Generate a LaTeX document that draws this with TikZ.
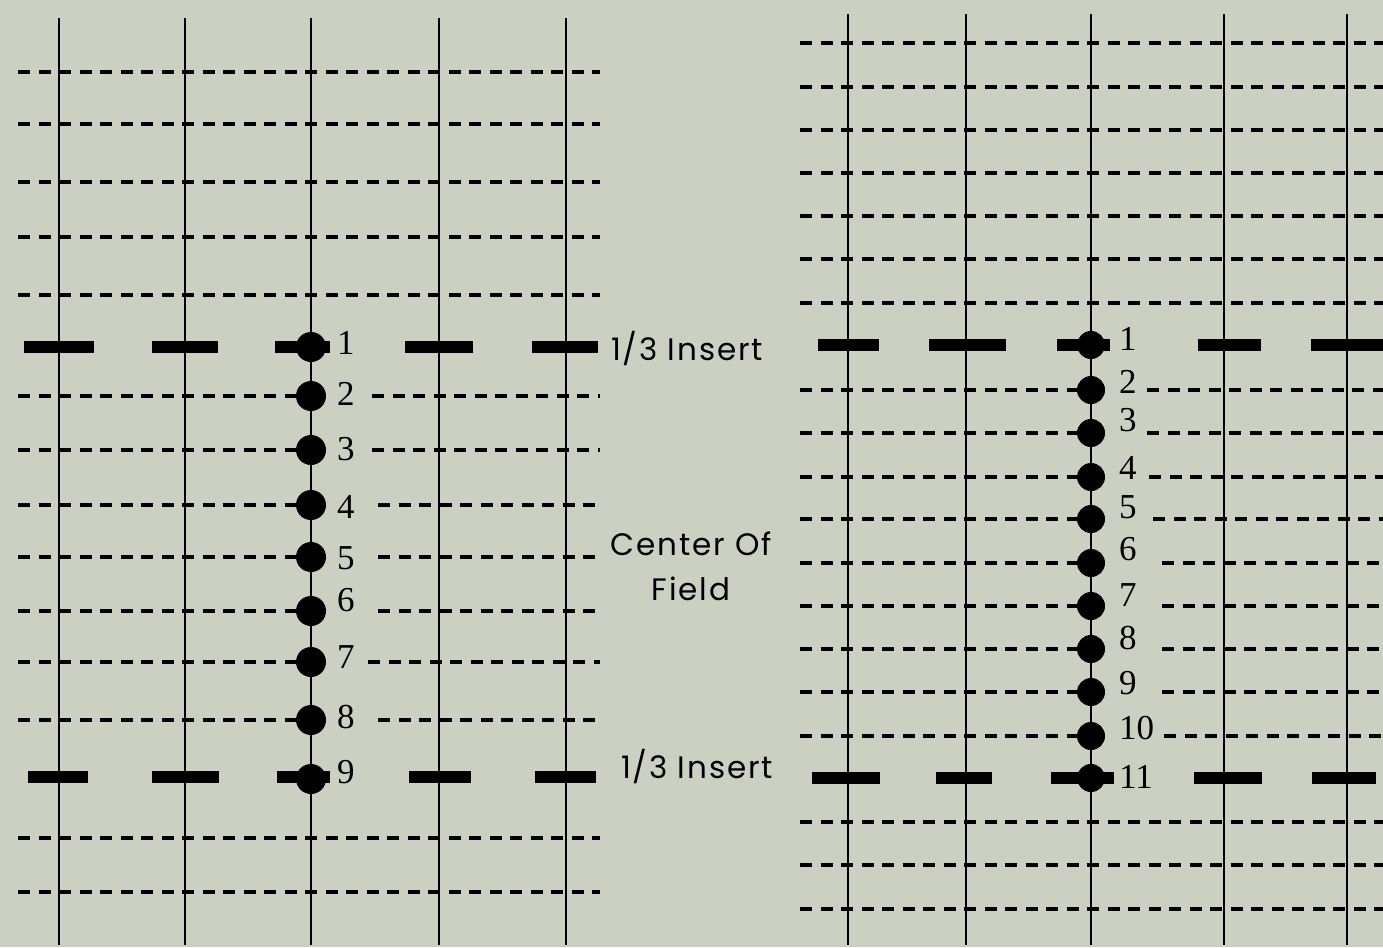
\documentclass[tikz,border=0pt]{standalone}
\usepackage{fontspec}
\newfontfamily\geo{Poppins}[LetterSpace=6]
\newfontfamily\numfont{Liberation Serif}
\definecolor{paper}{RGB}{204,208,194}
\begin{document}
\begin{tikzpicture}[x=1pt, y=-1pt, line cap=butt,
    vline/.style={line width=2.6pt},
    row/.style={line width=3.4pt, dash pattern=on 12pt off 8.5pt},
    bar/.style={line width=12pt},
    dot/.style={circle, fill=black, inner sep=0pt, minimum size=30pt},
    sdot/.style={dot, minimum size=28pt},
    num/.style={anchor=west, inner sep=0pt, font=\numfont\fontsize{35}{38}\selectfont},
    capt/.style={anchor=base, inner sep=0pt, font=\geo\fontsize{31}{34}\selectfont}]
  \fill[paper] (0,0) rectangle (1383,947);
  \useasboundingbox (0,0) rectangle (1383,947);
  \foreach \x in {59,185,311,439,566} \draw[vline] (\x,18) -- (\x,945);
  \foreach \y in {72,124,182,237,295,838,892} \draw[row] (18,\y) -- (600,\y);
  \foreach \y/\s in {396/372,450/372,505/378,557/378,611/378,662/368,720/378} {
    \draw[row] (18,\y) -- (311,\y);
    \draw[row] (\s,\y) -- (600,\y);}
  \foreach \a/\b in {24/94,152/218,275/330,405/473,532/598} \draw[bar] (\a,347) -- (\b,347);
  \foreach \a/\b in {28/88,152/219,277/330,409/471,535/596} \draw[bar] (\a,777) -- (\b,777);
  \foreach \i/\y/\t in {1/347/343,2/396/394,3/450/449,4/505/507,5/557/558,6/611/600,7/662/657,8/720/717,9/779/772} {
    \node[dot] (l\i) at (311,\y) {};
    \node[num] (ln\i) at (337,\t) {\i};}
  \node[capt] (ins1) at (687,360) {1/3 Insert};
  \node[capt] (cen) at (691,555) {Center Of};
  \node[capt] (fld) at (691,600) {Field};
  \node[capt] (ins2) at (697,778) {1/3 Insert};
  \foreach \x in {848,966,1091,1224,1347} \draw[vline] (\x,14) -- (\x,945);
  \foreach \y in {43,87,130,173,216,259,303,822,865,909} \draw[row] (800,\y) -- (1383,\y);
  \foreach \y/\s in {390/1147,433/1147,477/1149,519/1153,563/1162,606/1162,649/1162,692/1162,736/1164} {
    \draw[row] (800,\y) -- (1091,\y);
    \draw[row] (\s,\y) -- (1383,\y);}
  \foreach \a/\b in {818/879,929/1006,1057/1110,1198/1261,1311/1383} \draw[bar] (\a,345) -- (\b,345);
  \foreach \a/\b in {812/880,936/992,1051/1114,1194/1262,1312/1376} \draw[bar] (\a,778) -- (\b,778);
  \foreach \i/\y/\t in {1/345/339,2/390/382,3/433/420,4/477/468,5/519/507,6/563/549,7/606/595,8/649/638,9/692/683,10/736/728,11/778/777} {
    \node[sdot] (r\i) at (1091,\y) {};
    \node[num] (rn\i) at (1119,\t) {\i};}
\end{tikzpicture}
\end{document}
